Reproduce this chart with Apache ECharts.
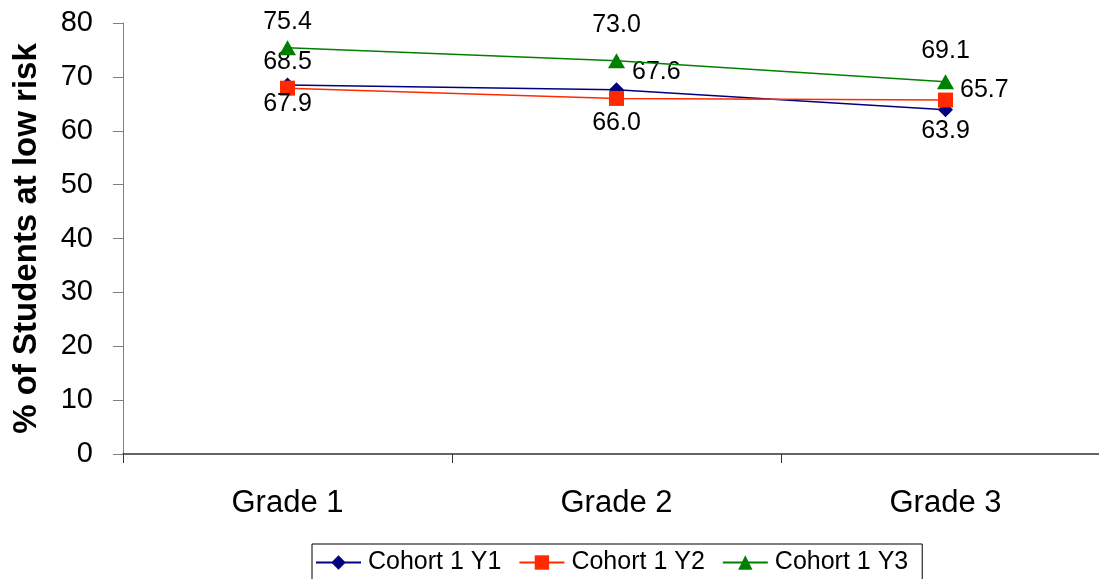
<!DOCTYPE html>
<html>
<head>
<meta charset="utf-8">
<script src="https://cdn.jsdelivr.net/npm/echarts@6/dist/echarts.min.js"></script>
<style>
  html, body { margin: 0; padding: 0; background: #fff; }
  #chart { width: 1099px; height: 579px; }
</style>
</head>
<body>
<div id="chart"></div>
<script>
// Share of students at low risk, by grade and cohort year
const grades = ['Grade 1', 'Grade 2', 'Grade 3'];
const cohortY1 = [68.5, 67.6, 63.9];
const cohortY2 = [67.9, 66.0, 65.7];
const cohortY3 = [75.4, 73.0, 69.1];
const yTicks = [0, 10, 20, 30, 40, 50, 60, 70, 80];

const FONT = '"Liberation Sans", Arial, sans-serif';

// label placement for each point of each series
const labelPlacement = {
  y1: [
    { position: 'top', distance: 3 },
    { position: 'right', distance: 0, offset: [8, -18] },
    { position: 'bottom', distance: 1 }
  ],
  y2: [
    { position: 'bottom', distance: -4 },
    { position: 'bottom', distance: 5 },
    { position: 'right', distance: 7, offset: [0, -10] }
  ],
  y3: [
    { position: 'top', distance: 6 },
    { position: 'top', distance: 16 },
    { position: 'top', distance: 11 }
  ]
};

function buildData(values, placement) {
  return values.map((v, i) => ({
    value: v,
    label: Object.assign({ show: true }, placement[i])
  }));
}

const labelStyle = {
  show: true,
  color: '#000',
  fontFamily: FONT,
  fontSize: 25,
  formatter: p => p.value.toFixed(1)
};

const chart = echarts.init(document.getElementById('chart'), null, { renderer: 'canvas' });

chart.setOption({
  animation: false,
  backgroundColor: '#fff',
  grid: {
    left: 123, top: 23, width: 987, height: 431,
    containLabel: false,
    outerBoundsMode: 'none'
  },
  legend: {
    left: 312,
    top: 544,
    itemGap: 17,
    itemWidth: 45,
    itemHeight: 18,
    padding: [6, 14, 20, 3],
    borderColor: '#000',
    borderWidth: 1,
    textStyle: { fontFamily: FONT, fontSize: 25, color: '#000', padding: [0, 0, 0, 2] },
    data: ['Cohort 1 Y1', 'Cohort 1 Y2', 'Cohort 1 Y3']
  },
  xAxis: {
    type: 'category',
    data: grades,
    boundaryGap: true,
    axisLine: { lineStyle: { color: '#333', width: 1.5 } },
    axisTick: { show: true, length: 9, lineStyle: { color: '#333' } },
    axisLabel: { color: '#000', fontFamily: FONT, fontSize: 31, margin: 34 },
    splitLine: { show: false }
  },
  yAxis: {
    type: 'value',
    min: yTicks[0],
    max: yTicks[yTicks.length - 1],
    interval: 10,
    name: '% of Students at low risk',
    nameLocation: 'middle',
    nameGap: 80,
    nameTextStyle: { fontFamily: FONT, fontSize: 33, fontWeight: 'bold', color: '#000' },
    axisLine: { show: true, lineStyle: { color: '#808080', width: 1 } },
    axisTick: { show: true, length: 10, lineStyle: { color: '#808080' } },
    axisLabel: { color: '#000', fontFamily: FONT, fontSize: 29, margin: 30 },
    splitLine: { show: false }
  },
  series: [
    {
      name: 'Cohort 1 Y1',
      type: 'line',
      data: buildData(cohortY1, labelPlacement.y1),
      symbol: 'diamond',
      symbolSize: 15,
      color: '#000080',
      lineStyle: { width: 1.5, color: '#000080' },
      label: labelStyle,
      z: 3
    },
    {
      name: 'Cohort 1 Y2',
      type: 'line',
      data: buildData(cohortY2, labelPlacement.y2),
      symbol: 'rect',
      symbolSize: 15,
      color: '#FF2A00',
      lineStyle: { width: 1.5, color: '#FF2A00' },
      label: labelStyle,
      z: 4
    },
    {
      name: 'Cohort 1 Y3',
      type: 'line',
      data: buildData(cohortY3, labelPlacement.y3),
      symbol: 'triangle',
      symbolSize: [17, 15],
      color: '#008000',
      lineStyle: { width: 1.5, color: '#008000' },
      label: labelStyle,
      z: 5
    }
  ]
});
</script>
</body>
</html>
